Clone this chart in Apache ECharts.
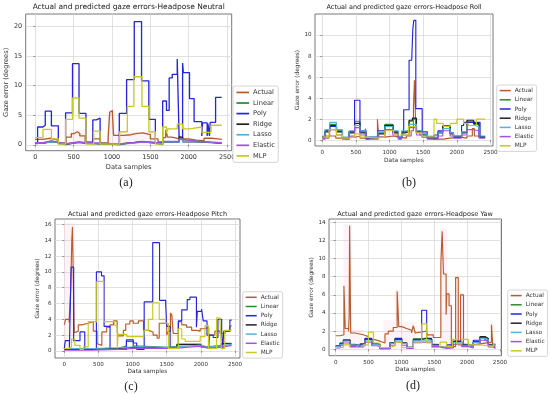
<!DOCTYPE html>
<html><head><meta charset="utf-8">
<script src="https://cdn.jsdelivr.net/npm/echarts@6/dist/echarts.min.js"></script>
<style>html,body{margin:0;padding:0;background:#fff}#c{width:550px;height:394px}</style>
</head><body><div id="c"></div>
<script>
// ---------- DATA ----------
const seriesNames = ['Actual','Linear','Poly','Ridge','Lasso','Elastic','MLP'];
const panelTitles = [
  'Actual and predicted gaze errors-Headpose Neutral',
  'Actual and predicted gaze errors-Headpose Roll',
  'Actual and predicted gaze errors-Headpose Pitch',
  'Actual and predicted gaze errors-Headpose Yaw'
];
const panelCaptions = ['(a)','(b)','(c)','(d)'];
const xTicks = [0,500,1000,1500,2000,2500];
const yTicksA = [0,5,10,15,20];
const yTicksB = [0,2,4,6,8,10];
const yTicksC = [0,2,4,6,8,10,12,14,16];
const yTicksD = [0,2,4,6,8,10,12,14];

// Panel (a) Neutral  — [x, level] step breakpoints
const A_actual = [[0,0.9],[100,1.1],[200,0.8],[300,0.3],[400,1.3],[470,1.9],[510,2.2],[550,1.9],[580,1.5],[650,0.5],[750,1.0],[850,0.3],[950,1.3],[970,5.5],[985,5.8],[1005,5.3],[1020,1.6],[1150,1.7],[1250,1.9],[1310,2.0],[1400,1.7],[1500,1.0],[1600,0.5],[1660,1.2],[1700,2.5],[1725,1.3],[1780,1.1],[1850,0.9],[1880,1.5],[1900,1.0],[2000,0.8],[2100,0.7],[2200,1.1],[2300,1.0],[2380,0.9],[2430,0.9]];
const A_linear = [[0,0.3],[100,0.6],[210,0.4],[300,0.1],[395,0.3],[485,0.45],[570,0.3],[660,0.1],[1100,0.3],[1200,0.4],[1290,0.55],[1390,0.35],[1565,0.1],[1660,0.5],[1875,1.1],[1920,0.6],[2100,0.4],[2300,0.3],[2430,0.3]];
const A_poly = [[0,0.2],[30,3.0],[100,3.3],[130,5.7],[210,3.2],[300,0.2],[395,5.4],[485,13.7],[570,5.3],[660,0.3],[750,4.2],[795,4.5],[845,0.2],[1095,5.3],[1190,11.0],[1290,20.8],[1385,10.8],[1480,4.3],[1565,0.3],[1660,7.4],[1710,5.8],[1745,11.3],[1785,11.9],[1850,14.5],[1875,1.0],[1920,13.8],[1930,12.2],[2010,7.8],[2070,3.9],[2170,1.5],[2180,3.7],[2240,1.5],[2250,3.6],[2270,1.5],[2280,3.8],[2350,8.0],[2430,8.0]];
const A_ridge = [[0,0.25],[100,0.55],[210,0.35],[300,0.05],[395,0.25],[485,0.4],[570,0.25],[660,0.05],[1100,0.25],[1200,0.35],[1290,0.5],[1390,0.3],[1565,0.05],[1660,0.45],[1875,1.3],[1920,0.5],[2100,0.35],[2300,0.25],[2430,0.2]];
const A_lasso = [[0,0.3],[100,0.5],[210,0.4],[300,0.1],[395,0.3],[485,0.4],[570,0.3],[660,0.1],[1100,0.3],[1290,0.45],[1390,0.35],[1565,0.1],[1660,0.45],[1875,1.0],[1920,0.55],[2100,0.4],[2300,0.3],[2430,0.25]];
const A_elastic = [[0,0.35],[100,0.65],[210,0.45],[300,0.15],[395,0.35],[485,0.5],[570,0.35],[660,0.15],[1100,0.35],[1290,0.5],[1390,0.4],[1565,0.15],[1660,0.55],[1875,0.9],[1920,0.6],[2100,0.45],[2300,0.35],[2430,0.3]];
const A_mlp = [[0,1.2],[100,2.6],[210,1.0],[300,0.1],[395,4.3],[485,7.9],[570,4.5],[660,0.1],[760,2.3],[845,0.1],[1100,2.2],[1200,6.5],[1285,11.5],[1390,6.5],[1480,2.2],[1565,0.1],[1660,3.0],[1710,2.0],[1730,2.7],[1850,3.5],[1920,2.7],[2010,3.0],[2170,2.1],[2290,3.3],[2430,3.3]];
const A_band = [[0,0],[450,2.6],[670,0],[940,6.0],[1035,2.2],[1540,0],[2430,0]];

// Panel (b) Roll
const B_actual = [[0,0.2],[100,0.4],[200,0.2],[300,0.1],[400,0.3],[500,0.4],[560,0.2],[640,1.1],[665,0.2],[760,0.3],[820,2.0],[840,0.3],[930,0.4],[1050,0.3],[1150,0.2],[1250,0.4],[1320,0.9],[1355,3.2],[1370,5.7],[1390,0.8],[1450,0.5],[1550,0.3],[1650,0.1],[1800,0.2],[1900,0.3],[2050,0.2],[2150,0.4],[2230,1.1],[2260,0.4],[2350,0.3],[2420,0.3]];
const B_linear = [[0,0.35],[40,0.9],[110,1.5],[210,0.9],[300,0.25],[400,0.8],[480,1.8],[560,0.8],[650,0.25],[830,0.7],[930,1.5],[1050,0.8],[1130,0.25],[1180,0.8],[1230,0.9],[1290,1.8],[1340,2.0],[1400,0.9],[1480,0.55],[1560,0.25],[1720,0.8],[1790,1.4],[1900,0.7],[1950,0.35],[2070,0.8],[2150,1.8],[2250,1.5],[2330,0.35],[2420,0.35]];
const B_poly = [[0,0.3],[40,0.9],[114,1.3],[213,0.85],[300,0.2],[400,0.85],[480,3.8],[560,0.9],[650,0.1],[690,0.3],[830,0.9],[930,1.4],[1055,0.8],[1130,0.3],[1180,0.8],[1210,2.9],[1290,7.6],[1330,7.8],[1345,10.5],[1360,11.4],[1390,3.0],[1485,0.8],[1560,0.3],[1660,0.5],[1720,0.9],[1790,1.3],[1900,0.7],[1950,0.4],[2070,1.4],[2100,1.7],[2345,0.3],[2420,0.3]];
const B_ridge = [[0,0.3],[40,0.8],[110,1.4],[210,0.8],[300,0.2],[400,0.7],[480,1.6],[560,0.7],[650,0.2],[830,0.6],[930,1.4],[1050,0.7],[1130,0.2],[1180,0.7],[1230,0.8],[1290,1.9],[1340,2.1],[1400,0.8],[1480,0.5],[1560,0.2],[1720,0.7],[1790,1.3],[1900,0.6],[1950,0.3],[2070,0.7],[2150,1.9],[2250,1.6],[2330,0.3],[2420,0.3]];
const B_lasso = [[0,0.4],[40,1.0],[110,1.7],[210,1.0],[300,0.3],[400,0.9],[480,1.4],[560,0.9],[650,0.3],[830,0.8],[930,1.3],[1050,0.9],[1130,0.3],[1180,0.9],[1290,1.5],[1400,0.9],[1480,0.6],[1560,0.3],[1720,0.7],[1790,1.1],[1900,0.7],[1950,0.4],[2070,0.8],[2150,1.4],[2250,1.3],[2330,0.4],[2420,0.4]];
const B_elastic = [[0,0.1],[40,0.4],[110,1.0],[210,0.5],[300,0.1],[400,0.4],[480,1.2],[560,0.5],[650,0.1],[830,0.3],[930,1.0],[1050,0.5],[1130,0.1],[1180,0.5],[1290,1.2],[1400,0.5],[1480,0.3],[1560,0.1],[1720,0.4],[1790,0.9],[1900,0.4],[1950,0.2],[2070,0.5],[2150,1.0],[2250,0.9],[2330,0.2],[2420,0.2]];
const B_mlp = [[0,0.3],[100,1.0],[213,0.5],[300,0.2],[400,0.3],[480,0.6],[560,0.3],[650,0.2],[800,0.3],[930,0.9],[1060,0.5],[1280,1.3],[1390,0.7],[1480,0.4],[1660,2.0],[1700,1.6],[1800,1.3],[1900,1.6],[2000,2.0],[2100,1.6],[2170,1.4],[2290,2.0],[2420,2.0]];
const B_band = [[0,0],[2420,0]];

// Panel (c) Pitch
const C_actual = [[0,3.3],[20,4.0],[70,3.6],[95,8.0],[110,14.0],[120,15.7],[145,2.3],[170,2.5],[205,3.3],[255,3.5],[350,3.7],[425,2.5],[480,0.9],[500,0.7],[550,2.4],[620,3.0],[670,3.3],[720,3.8],[775,2.4],[790,1.9],[865,2.6],[900,3.4],[960,3.8],[1010,3.5],[1085,3.8],[1160,2.6],[1230,2.4],[1300,2.0],[1360,1.6],[1390,3.5],[1500,2.0],[1525,2.5],[1555,4.8],[1575,4.5],[1595,2.2],[1670,3.7],[1720,3.3],[1790,3.0],[1865,2.6],[1940,2.5],[1990,2.8],[2060,3.0],[2115,0.3],[2130,2.0],[2205,2.5],[2280,2.2],[2355,2.5],[2425,3.1],[2450,3.2]];
const C_linear = [[0,0.25],[400,0.35],[800,0.6],[910,1.2],[1010,0.6],[1100,0.45],[1500,0.55],[1650,0.85],[2000,0.55],[2100,0.65],[2300,0.95],[2450,0.95]];
const C_poly = [[0,0.3],[15,1.3],[75,0.4],[100,10.6],[137,1.3],[230,2.4],[300,0.2],[470,10.0],[545,9.5],[583,3.1],[670,0.2],[910,1.4],[1010,1.0],[1060,0.2],[1170,6.2],[1295,13.7],[1395,6.4],[1485,5.8],[1500,3.1],[1550,0.3],[1670,3.8],[1720,5.2],[1800,6.5],[1840,6.8],[1935,3.0],[1948,5.0],[2010,5.3],[2035,3.8],[2090,2.0],[2180,1.7],[2250,4.0],[2305,2.4],[2320,0.2],[2335,2.5],[2425,3.9],[2450,3.9]];
const C_ridge = [[0,0.2],[400,0.3],[800,0.5],[1100,0.4],[1500,0.5],[1650,0.8],[2000,0.5],[2100,0.6],[2300,0.9],[2450,0.9]];
const C_lasso = [[0,0.3],[400,0.4],[800,0.55],[1100,0.45],[1500,0.5],[1650,0.75],[2000,0.5],[2100,0.6],[2300,0.85],[2450,0.85]];
const C_elastic = [[0,0.1],[400,0.2],[800,0.35],[1100,0.3],[1500,0.35],[1650,0.6],[2000,0.35],[2100,0.45],[2300,0.7],[2450,0.7]];
const C_mlp = [[0,0.3],[60,0.5],[105,1.5],[155,0.7],[230,0.2],[280,0.5],[350,3.7],[475,8.8],[575,3.7],[740,3.2],[775,0.3],[790,2.1],[915,1.8],[1165,2.6],[1230,4.0],[1295,6.1],[1390,4.0],[1485,3.5],[1525,0.3],[1670,2.8],[1720,1.5],[1770,1.2],[1990,1.8],[2060,3.2],[2110,0.3],[2230,4.2],[2280,3.9],[2300,0.3],[2350,2.6],[2450,2.6]];
const C_band = [[0,16.2],[160,0],[1540,4.9],[1600,0],[2450,0]];

// Panel (d) Yaw
const D_actual = [[0,1.5],[66,1.6],[125,7.0],[145,2.3],[195,2.0],[205,3.8],[212,13.6],[228,1.8],[295,1.6],[420,1.4],[500,1.1],[575,0.9],[675,0.7],[750,1.7],[800,2.0],[875,2.4],[935,6.4],[960,2.5],[1005,2.3],[1080,2.1],[1155,1.8],[1180,2.6],[1210,1.8],[1230,2.0],[1385,1.6],[1485,1.3],[1600,9.4],[1620,13.0],[1640,8.3],[1680,3.8],[1690,6.1],[1725,4.8],[1760,0.3],[1825,7.9],[1865,0.5],[1900,6.0],[1945,0.4],[2000,0.6],[2200,0.8],[2370,2.7],[2390,0.5],[2420,0.5]];
const D_linear = [[0,0.35],[66,0.65],[117,1.05],[218,0.55],[294,0.45],[370,0.65],[446,1.15],[548,0.65],[623,0.55],[674,0.15],[827,0.75],[903,1.15],[1004,0.75],[1080,0.25],[1182,1.15],[1308,1.25],[1384,1.15],[1460,0.55],[1562,0.25],[1689,0.35],[1790,0.85],[1917,0.55],[2018,0.35],[2094,0.85],[2196,1.35],[2272,1.15],[2323,0.55],[2430,0.55]];
const D_poly = [[0,0.4],[66,0.7],[117,1.0],[218,0.5],[294,0.3],[370,0.6],[446,1.2],[548,0.6],[623,0.5],[674,0.1],[827,0.7],[903,1.2],[1004,0.7],[1080,0.2],[1182,1.0],[1308,4.3],[1384,1.2],[1460,0.5],[1562,0.2],[1689,0.5],[1790,0.9],[1917,0.5],[2018,0.3],[2094,1.0],[2196,1.3],[2272,1.0],[2323,0.3],[2399,0.1],[2430,0.1]];
const D_ridge = [[0,0.3],[66,0.6],[117,1.0],[218,0.5],[294,0.4],[370,0.6],[446,1.1],[548,0.6],[623,0.5],[674,0.1],[827,0.7],[903,1.1],[1004,0.7],[1080,0.2],[1182,1.1],[1308,1.2],[1384,1.1],[1460,0.5],[1562,0.2],[1689,0.3],[1790,0.8],[1917,0.5],[2018,0.3],[2094,0.8],[2196,1.4],[2272,1.2],[2323,0.5],[2430,0.5]];
const D_lasso = [[0,0.3],[66,0.55],[117,0.9],[218,0.5],[294,0.35],[370,0.55],[446,1.0],[548,0.55],[623,0.45],[674,0.1],[827,0.65],[903,1.0],[1004,0.65],[1080,0.2],[1182,1.0],[1384,1.0],[1460,0.45],[1562,0.2],[1689,0.3],[1790,0.75],[1917,0.45],[2018,0.3],[2094,0.75],[2196,1.2],[2272,1.05],[2323,0.45],[2430,0.45]];
const D_elastic = [[0,0.15],[66,0.4],[117,0.7],[218,0.3],[294,0.2],[370,0.4],[446,0.8],[548,0.4],[623,0.3],[674,0.05],[827,0.45],[903,0.8],[1004,0.45],[1080,0.1],[1182,0.8],[1384,0.8],[1460,0.3],[1562,0.1],[1689,0.15],[1790,0.55],[1917,0.3],[2018,0.15],[2094,0.55],[2196,1.0],[2272,0.85],[2323,0.3],[2430,0.3]];
const D_mlp = [[0,0.2],[117,0.5],[218,0.2],[420,0.5],[497,1.9],[573,0.7],[674,0.2],[827,0.4],[903,0.8],[1004,0.2],[1182,0.7],[1308,2.8],[1384,0.7],[1460,0.2],[1587,0.8],[1689,0.3],[1775,1.1],[1840,0.6],[1917,1.1],[2018,0.5],[2196,0.3],[2399,0.6],[2430,0.6]];
const D_band = [[0,0],[117,13.8],[245,2.2],[420,0],[725,3.2],[900,6.6],[975,3.0],[1232,0],[1590,13.3],[1700,6.5],[1770,0],[1815,8.1],[1870,0],[1895,6.2],[1950,0],[2360,3.0],[2400,0],[2430,0]];

// ---------- LAYOUT / STYLE ----------
const colors = ['#b75a2c','#2c8a2c','#2525dd','#222222','#56b2d4','#a54fe6','#c9c91e'];
const panelData = [
  {series:[A_actual,A_linear,A_poly,A_ridge,A_lasso,A_elastic,A_mlp], band:A_band, yTicks:yTicksA},
  {series:[B_actual,B_linear,B_poly,B_ridge,B_lasso,B_elastic,B_mlp], band:B_band, yTicks:yTicksB},
  {series:[C_actual,C_linear,C_poly,C_ridge,C_lasso,C_elastic,C_mlp], band:C_band, yTicks:yTicksC},
  {series:[D_actual,D_linear,D_poly,D_ridge,D_lasso,D_elastic,D_mlp], band:D_band, yTicks:yTicksD}
];
const layout = [
  {grid:{left:25.7,top:14,width:206,height:136.7}, x:[-125,2560], y:[-1.0,22.1], legend:{left:233,top:86}, title:[128.7,7.5], cap:[126,183], s:1.15, yGap:12, xGap:11},
  {grid:{left:315,top:14,width:178,height:132}, x:[-108,2537], y:[-0.55,12.0], legend:{left:496.7,top:85}, title:[404,7.5], cap:[409,183], s:1.0, yGap:12, xGap:11},
  {grid:{left:55,top:219,width:185,height:139}, x:[-136,2573], y:[-0.9,16.7], legend:{left:242.7,top:291.7}, title:[147.5,214], cap:[131,386.5], s:1.0, yGap:10, xGap:9},
  {grid:{left:329,top:219,width:172.5,height:136.7}, x:[-102,2523], y:[-0.7,14.35], legend:{left:507.7,top:290}, title:[415,214], cap:[413,386], s:1.0, yGap:12, xGap:10}
];
const FONT = 'DejaVu Sans';

const grids = [], xAxes = [], yAxes = [], series = [], legends = [], graphics = [];
layout.forEach((L, i) => {
  const s = L.s;
  grids.push(Object.assign({show:true, borderColor:'#555', borderWidth:0.8, backgroundColor:'#fff'}, L.grid));
  const tickFont = 5.6*s;
  xAxes.push({
    type:'value', gridIndex:i, min:L.x[0], max:L.x[1],
    name:'Data samples', nameLocation:'middle', nameGap:L.xGap*s,
    nameTextStyle:{fontFamily:FONT, fontSize:5.8*s, color:'#333'},
    axisLine:{show:false},
    axisTick:{show:true, length:2, lineStyle:{color:'#555', width:0.6}, customValues:xTicks},
    axisLabel:{fontFamily:FONT, fontSize:tickFont, color:'#333', margin:3.5, customValues:xTicks, formatter:v => String(v)},
    splitLine:{show:true, lineStyle:{color:'#d4d4d4', width:0.7}}
  });
  yAxes.push({
    type:'value', gridIndex:i, min:L.y[0], max:L.y[1],
    name:'Gaze error (degrees)', nameLocation:'middle', nameGap:L.yGap*s, nameRotate:90,
    nameTextStyle:{fontFamily:FONT, fontSize:5.8*s, color:'#333'},
    axisLine:{show:false},
    axisTick:{show:true, length:2, lineStyle:{color:'#555', width:0.6}, customValues:panelData[i].yTicks},
    axisLabel:{fontFamily:FONT, fontSize:tickFont, color:'#333', margin:3.5, customValues:panelData[i].yTicks, formatter:v => String(v)},
    splitLine:{show:true, lineStyle:{color:'#d4d4d4', width:0.7}}
  });
  series.push({
    type:'line', name:'band'+i, xAxisIndex:i, yAxisIndex:i, step:'end', data:panelData[i].band,
    showSymbol:false, silent:true, lineStyle:{width:0}, areaStyle:{color:'rgba(255,170,200,0.2)'}, z:1
  });
  panelData[i].series.forEach((d, k) => {
    series.push({
      type:'line', name:seriesNames[k], xAxisIndex:i, yAxisIndex:i, step:'end', data:d,
      showSymbol:false, lineStyle:{color:colors[k], width:1.15*s}, itemStyle:{color:colors[k]}, z:2+k
    });
  });
  legends.push({
    data:seriesNames, orient:'vertical', left:L.legend.left, top:L.legend.top,
    icon:'rect', itemWidth:11*s, itemHeight:1.5*s, itemGap:2*s,
    padding:[2*s,3*s,2*s,3*s], borderColor:'#cccccc', borderWidth:0.8, borderRadius:2, backgroundColor:'#fff',
    textStyle:{fontFamily:FONT, fontSize:5.8*s, color:'#333', lineHeight:7.2*s, padding:[0,0,0,-1]},
    selectedMode:false
  });
  graphics.push({type:'text', x:L.title[0], y:L.title[1], style:{text:panelTitles[i], fontFamily:FONT, fontSize:6.5*s, fill:'#222', align:'center', verticalAlign:'middle'}});
  graphics.push({type:'text', x:L.cap[0], y:L.cap[1], style:{text:panelCaptions[i], fontFamily:'Liberation Serif', fontSize:12, fill:'#222', align:'center', verticalAlign:'middle'}});
});

const chart = echarts.init(document.getElementById('c'), null, {renderer:'canvas'});
chart.setOption({
  animation:false, backgroundColor:'#fff',
  grid:grids, xAxis:xAxes, yAxis:yAxes, series:series, legend:legends, graphic:graphics
});
</script></body></html>
